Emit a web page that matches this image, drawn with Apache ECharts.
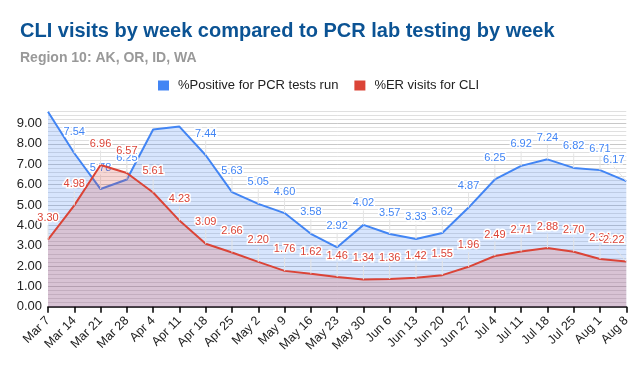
<!DOCTYPE html>
<html><head><meta charset="utf-8">
<script src="https://cdn.jsdelivr.net/npm/echarts@6/dist/echarts.min.js"></script>
<style>html,body{margin:0;padding:0;background:#fff}#c{width:633px;height:371px}</style>
</head><body><div id="c"></div>
<script>
const weeks = ["Mar 7","Mar 14","Mar 21","Mar 28","Apr 4","Apr 11","Apr 18","Apr 25","May 2","May 9","May 16","May 23","May 30","Jun 6","Jun 13","Jun 20","Jun 27","Jul 4","Jul 11","Jul 18","Jul 25","Aug 1","Aug 8"];
const pcrPositive = [9.58,7.54,5.78,6.25,8.71,8.85,7.44,5.63,5.05,4.60,3.58,2.92,4.02,3.57,3.33,3.62,4.87,6.25,6.92,7.24,6.82,6.71,6.17];
const erVisits = [3.30,4.98,6.96,6.57,5.61,4.23,3.09,2.66,2.20,1.76,1.62,1.46,1.34,1.36,1.42,1.55,1.96,2.49,2.71,2.88,2.70,2.34,2.22];
const hiddenPcrLabels = [0,4,5];
const seriesNames = ["%Positive for PCR tests run","%ER visits for CLI"];

const font = "Arial, 'Liberation Sans', sans-serif";
function lbl(color){
  return {show:true, position:'top', distance:2, formatter:p=>p.value.toFixed(2), color:color,
    fontFamily:font, fontSize:11, textBorderColor:'#fff', textBorderWidth:3};
}
function items(arr, hidden){
  return arr.map((v,i)=> hidden.includes(i) ? {value:v, label:{show:false}, labelLine:{show:false}} : v);
}
function layout(params){
  const r = params.labelRect;
  const overflow = r.x + r.width - 628;
  return {dy:-14, dx: overflow > 0 ? -overflow - 2 : 0};
}
const chart = echarts.init(document.getElementById('c'));
chart.setOption({
  animation:false,
  title:[{text:"CLI visits by week compared to PCR lab testing by week", left:15, top:16,
    textStyle:{fontFamily:font, fontSize:20, fontWeight:'bold', color:'#0b5394'}},
    {text:"Region 10: AK, OR, ID, WA", left:15, top:46,
    textStyle:{fontFamily:font, fontSize:14, fontWeight:'bold', color:'#999'}}],
  legend:{top:74, left:153, itemWidth:11, itemHeight:10, itemGap:16, icon:'rect',
    textStyle:{fontFamily:font, fontSize:13, color:'#222', padding:[0,0,0,4]}, data:seriesNames},
  grid:{left:48, right:5, top:111.3, bottom:64.3},
  xAxis:{type:'category', data:weeks, boundaryGap:false,
    axisLine:{lineStyle:{color:'#000', width:1.5}},
    axisTick:{show:true, length:6, lineStyle:{color:'#000', width:1.5}, interval:0},
    axisLabel:{rotate:45, interval:0, fontFamily:font, fontSize:12.5, color:'#222', margin:12},
    splitLine:{show:false}},
  yAxis:{type:'value', min:0, max:9.6, interval:0.2,
    axisLine:{show:false}, axisTick:{show:false},
    axisLabel:{fontFamily:font, fontSize:13, color:'#222', margin:6,
      formatter:v=>Math.abs(v-Math.round(v))<1e-6 && v<9.5 ? Math.round(v).toFixed(2) : ''},
    splitLine:{lineStyle:{color:['#c8c8c8','#e0e0e0','#e0e0e0','#e0e0e0','#e0e0e0'], width:1}}},
  series:[
    {name:seriesNames[0], type:'line', data:items(pcrPositive, hiddenPcrLabels),
     symbol:'circle', symbolSize:0.01, showSymbol:true, color:'#4285f4', lineStyle:{width:2, color:'#4285f4'},
     areaStyle:{color:'rgba(66,133,244,0.3)'}, label:lbl('#4285f4'),
     labelLayout:layout, labelLine:{show:true, lineStyle:{color:'#e4e4e4', width:1}}, z:2},
    {name:seriesNames[1], type:'line', data:items(erVisits, []),
     symbol:'circle', symbolSize:0.01, showSymbol:true, color:'#db4437', lineStyle:{width:2, color:'#db4437'},
     areaStyle:{color:'rgba(219,68,55,0.3)'}, label:lbl('#db4437'),
     labelLayout:layout, labelLine:{show:true, lineStyle:{color:'#e4e4e4', width:1}}, z:3}
  ]
});
</script></body></html>
